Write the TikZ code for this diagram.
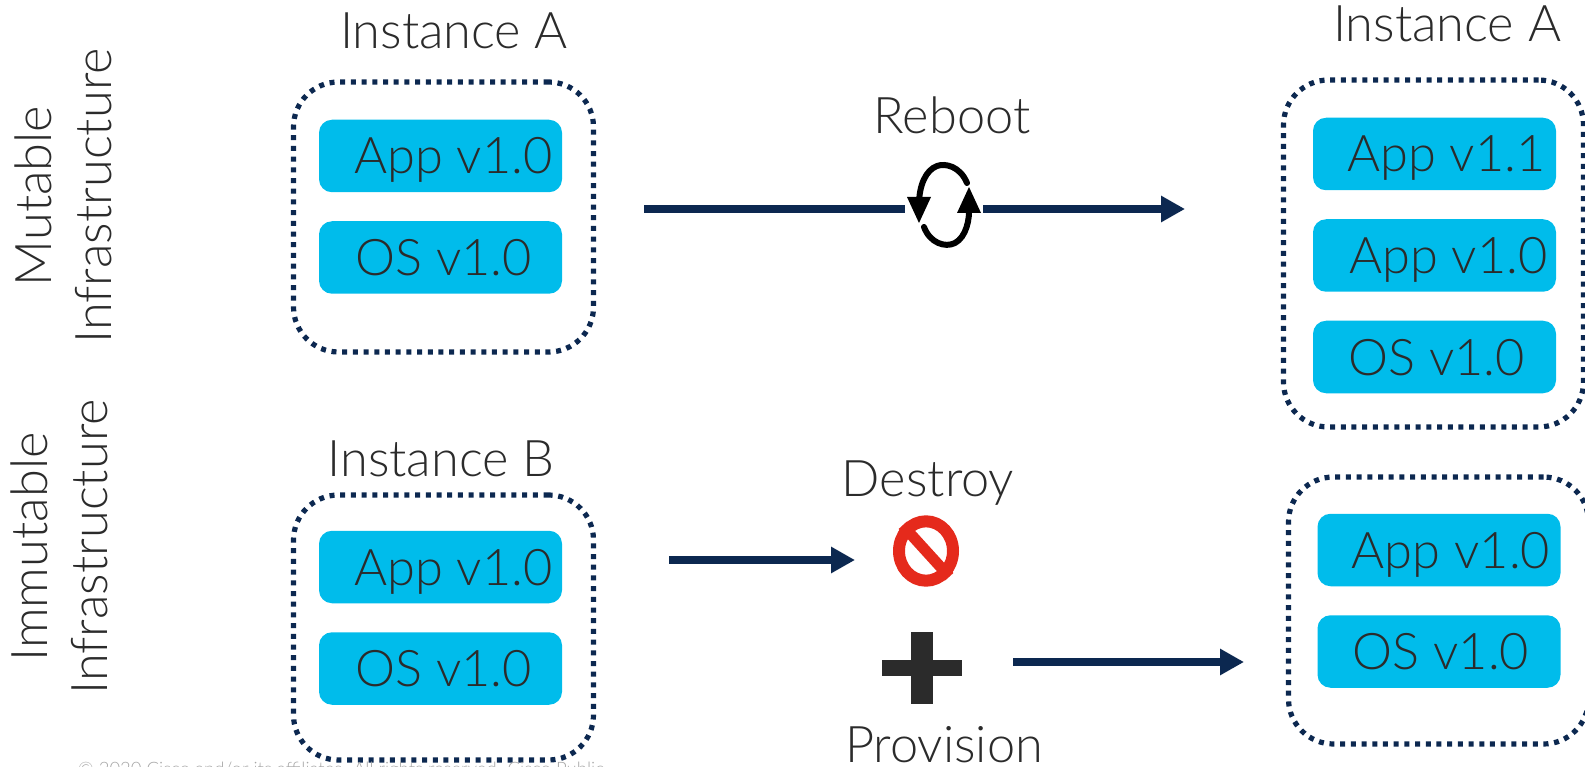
\documentclass[tikz,border=0pt]{standalone}
\usepackage{fontspec}
\setmainfont{Lato Light}
\usetikzlibrary{arrows.meta}

\definecolor{navy}{HTML}{0C2850}
\definecolor{sky}{HTML}{00BCEB}
\definecolor{ink}{HTML}{2B2B2B}
\definecolor{stopred}{HTML}{E52A1C}

\begin{document}
\begin{tikzpicture}[x=1pt,y=-1pt,>={Triangle[length=24pt,width=25pt]},node distance=101.5pt,
  link/.style={draw=navy,line width=7.5pt},
  title node/.style={text=ink,inner sep=0pt,font=\fontsize{50.5}{60}\selectfont},
  side node/.style={title node,rotate=90,align=center},
  layer node/.style={fill=sky,text=ink,rounded corners=13pt,minimum width=243pt,minimum height=72.5pt,
    inner sep=0pt,outer sep=0pt,text height=36pt,text depth=0pt,font=\fontsize{50.5}{54}\selectfont},
  instance node/.style={draw=navy,line width=5.2pt,dash pattern=on 5pt off 5.7pt,rounded corners=45pt,
    minimum width=300pt,outer sep=0pt,inner sep=0pt}]

  \useasboundingbox (0,0) rectangle (1585,767);

  % mutable row
  \node[instance node,minimum height=270pt] (box1) at (443.5,217) {};
  \node[layer node] (app1) at (440.5,156) {\hspace{26pt}App v1.0};
  \node[layer node] (os1) [below of=app1] {\hspace{6pt}OS v1.0};
  \node[title node] (inst1) at (454,31) {Instance A};

  \node[instance node,minimum height=347pt] (box2) at (1433.5,253.5) {};
  \node[layer node] (app2) at (1434.5,154) {\hspace{24pt}App v1.1};
  \node[layer node] (app3) [below of=app2] {\hspace{28pt}App v1.0};
  \node[layer node] (os2) [below of=app3] {\hspace{4pt}OS v1.0};
  \node[title node] (inst2) at (1447,24) {Instance A};

  % immutable row
  \node[instance node,minimum height=265pt] (box3) at (443.5,627.5) {};
  \node[layer node] (app4) at (440.5,567) {\hspace{26pt}App v1.0};
  \node[layer node] (os3) [below of=app4] {\hspace{6pt}OS v1.0};
  \node[title node] (inst3) at (441,459) {Instance B};

  \node[instance node,minimum height=267pt] (box4) at (1438.5,610.5) {};
  \node[layer node] (app5) at (1439,550) {\hspace{24pt}App v1.0};
  \node[layer node] (os4) [below of=app5] {\hspace{4pt}OS v1.0};

  % side labels
  \node[side node] (mut) at (63.5,196) {Mutable\\Infrastructure};
  \node[side node] (imm) at (59,547) {Immutable\\Infrastructure};

  % reboot
  \node[title node] (reboot) at (952,115) {Reboot};
  \coordinate (r1) at (644,209);
  \coordinate (r2) at (905,209);
  \coordinate (r3) at (983,209);
  \coordinate (r4) at (1185,209);
  \draw[link] (r1) -- (r2);
  \draw[link,->] (r3) -- (r4);
  \draw[line width=6pt,line cap=round] (967,183) .. controls (960,166) and (945,163) .. (937,166)
    .. controls (926,170) and (919,185) .. (919,205);
  \draw[line width=6pt,line cap=round] (924,227) .. controls (930,243) and (945,248) .. (955,243)
    .. controls (966,237) and (970,220) .. (969,205);
  \fill (907,197) -- (931,197) -- (919,223) -- cycle;
  \fill (957,213) -- (981,213) -- (969,187) -- cycle;

  % destroy
  \node[title node] (destroy) at (928,483) {Destroy};
  \coordinate (d1) at (669,560);
  \coordinate (d2) at (855,560);
  \draw[link,->] (d1) -- (d2);
  \node[draw=stopred,line width=12pt,circle,inner sep=0pt,minimum size=54pt,yscale=1.1] (stop) at (926,551) {};
  \draw[stopred,line width=11pt] (stop.135) -- (stop.-45);

  % provision
  \fill[ink] (882,660) rectangle (962,676);
  \fill[ink] (911,632) rectangle (933,704);
  \node[title node] (prov) at (944,745) {Provision};
  \coordinate (p1) at (1013,662);
  \coordinate (p2) at (1244,662);
  \draw[link,->] (p1) -- (p2);

  % footer cut by the page edge
  \node[anchor=north west,inner sep=0pt,text=gray!70,font=\fontsize{18.5}{20}\selectfont] (foot) at (78,762)
    {© 2020 Cisco and/or its affiliates. All rights reserved. Cisco Public};
\end{tikzpicture}
\end{document}
